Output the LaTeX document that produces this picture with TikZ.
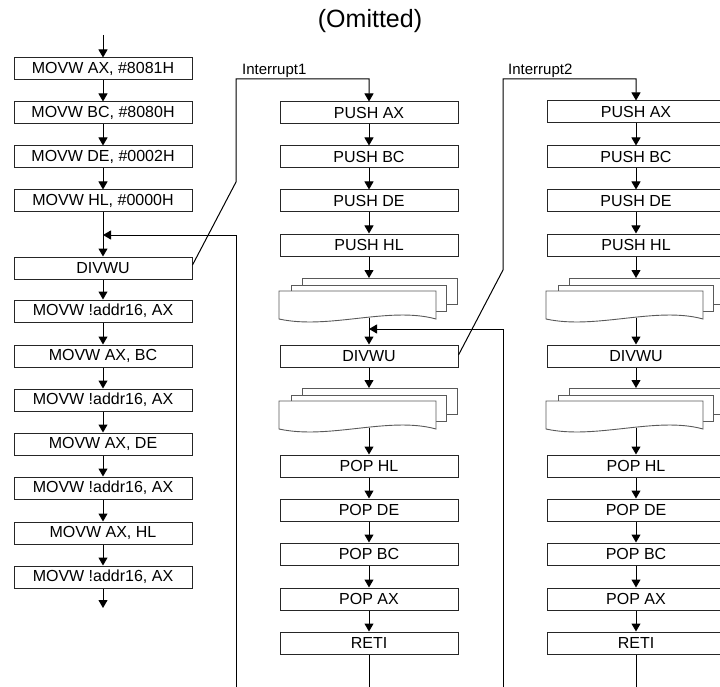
\documentclass[tikz,border=0pt]{standalone}
\usepackage{fontspec}
\setmainfont{Liberation Sans}
\usetikzlibrary{arrows.meta}
\newcommand\mydoc[2]{%
  \draw[sheet] (#1-67,#2) rectangle (#1+88,#2+26);
  \draw[sheet] (#1-78,#2+7) rectangle (#1+77,#2+33);
  \draw[sheet] (#1-90,#2+41) -- (#1-90,#2+13) -- (#1+67,#2+13) -- (#1+67,#2+41)
     .. controls (#1+20,#2+28) and (#1-40,#2+52) .. (#1-90,#2+41) -- cycle;
}
\begin{document}
\begin{tikzpicture}[x=1pt,y=-1pt,
  box/.style={draw=black!85, line width=1pt, minimum width=178pt, minimum height=22pt,
    inner sep=0pt, font=\fontsize{16}{18}\selectfont, fill=white},
  arr/.style={line width=1pt, -{Triangle[width=9pt,length=8pt]}},
  ln/.style={line width=1pt},
  lab/.style={font=\fontsize{15}{17}\selectfont, inner sep=0pt},
  sheet/.style={draw=black!65, line width=0.9pt, fill=white}]
\useasboundingbox (0,0) rectangle (720,687);
\clip (0,0) rectangle (720,687);

% title
\node[anchor=base, font=\fontsize{25}{28}\selectfont, inner sep=0pt] (ttl) at (370,28) {(Omitted)};

% left column
\node[box] (a1) at (103,69) {MOVW AX, \#8081H};
\node[box] (a2) at (103,113) {MOVW BC, \#8080H};
\node[box] (a3) at (103,157) {MOVW DE, \#0002H};
\node[box] (a4) at (103,201) {MOVW HL, \#0000H};
\node[box] (a5) at (103,268) {DIVWU};
\node[box] (a6) at (103,311) {MOVW !addr16, AX};
\node[box] (a7) at (103,356) {MOVW AX, BC};
\node[box] (a8) at (103,400) {MOVW !addr16, AX};
\node[box] (a9) at (103,444) {MOVW AX, DE};
\node[box] (a10) at (103,488) {MOVW !addr16, AX};
\node[box] (a11) at (103,533) {MOVW AX, HL};
\node[box] (a12) at (103,577) {MOVW !addr16, AX};
\coordinate (a0) at (103,35);
\coordinate (aend) at (103,608);
\coordinate (j0) at (103,235);

\draw[arr] (a0) -- (a1.north);
\foreach \i/\j in {1/2,2/3,3/4,4/5,5/6,6/7,7/8,8/9,9/10,10/11,11/12}
  \draw[arr] (a\i.south) -- (a\j.north);
\draw[arr] (a12.south) -- (aend);

% middle column
\node[box] (m1) at (369,113) {PUSH AX};
\node[box] (m2) at (369,157) {PUSH BC};
\node[box] (m3) at (369,201) {PUSH DE};
\node[box] (m4) at (369,245) {PUSH HL};
\node[box] (m5) at (369,356) {DIVWU};
\node[box] (m6) at (369,466) {POP HL};
\node[box] (m7) at (369,510) {POP DE};
\node[box] (m8) at (369,554) {POP BC};
\node[box] (m9) at (369,599) {POP AX};
\node[box] (m10) at (369,643) {RETI};
\mydoc{369}{278}
\mydoc{369}{388}
\coordinate (d1t) at (369,278);
\coordinate (d1b) at (369,318);
\coordinate (d2t) at (369,388);
\coordinate (d2b) at (369,428);
\coordinate (j1) at (369,329);

\draw[arr] (m1.south) -- (m2.north);
\draw[arr] (m2.south) -- (m3.north);
\draw[arr] (m3.south) -- (m4.north);
\draw[arr] (m4.south) -- (d1t);
\draw[arr] (d1b) -- (m5.north);
\draw[arr] (m5.south) -- (d2t);
\draw[arr] (d2b) -- (m6.north);
\draw[arr] (m6.south) -- (m7.north);
\draw[arr] (m7.south) -- (m8.north);
\draw[arr] (m8.south) -- (m9.north);
\draw[arr] (m9.south) -- (m10.north);

% right column
\node[box] (r1) at (636,112) {PUSH AX};
\node[box] (r2) at (636,157) {PUSH BC};
\node[box] (r3) at (636,201) {PUSH DE};
\node[box] (r4) at (636,245) {PUSH HL};
\node[box] (r5) at (636,356) {DIVWU};
\node[box] (r6) at (636,466) {POP HL};
\node[box] (r7) at (636,510) {POP DE};
\node[box] (r8) at (636,554) {POP BC};
\node[box] (r9) at (636,599) {POP AX};
\node[box] (r10) at (636,643) {RETI};
\mydoc{636}{278}
\mydoc{636}{388}
\coordinate (e1t) at (636,278);
\coordinate (e1b) at (636,318);
\coordinate (e2t) at (636,388);
\coordinate (e2b) at (636,428);

\draw[arr] (r1.south) -- (r2.north);
\draw[arr] (r2.south) -- (r3.north);
\draw[arr] (r3.south) -- (r4.north);
\draw[arr] (r4.south) -- (e1t);
\draw[arr] (e1b) -- (r5.north);
\draw[arr] (r5.south) -- (e2t);
\draw[arr] (e2b) -- (r6.north);
\draw[arr] (r6.south) -- (r7.north);
\draw[arr] (r7.south) -- (r8.north);
\draw[arr] (r8.south) -- (r9.north);
\draw[arr] (r9.south) -- (r10.north);

% interrupt entries
\coordinate (k1) at (236,182);
\coordinate (t1) at (236,79);
\coordinate (k2) at (503,270);
\coordinate (t2) at (503,79);
\draw[arr] ([yshift=3pt]a5.east) -- (k1) -- (t1) -| (m1.north);
\draw[arr] ([yshift=1pt]m5.east) -- (k2) -- (t2) -| (r1.north);
\node[lab, anchor=base west] (l1) at (242,75) {Interrupt1};
\node[lab, anchor=base west] (l2) at (508,75) {Interrupt2};

% returns
\coordinate (b1) at (236,687.3);
\coordinate (b2) at (503,687.3);
\draw[arr] (m10.south) |- (b1) |- (j0);
\draw[arr] (r10.south) |- (b2) |- (j1);
\end{tikzpicture}
\end{document}
